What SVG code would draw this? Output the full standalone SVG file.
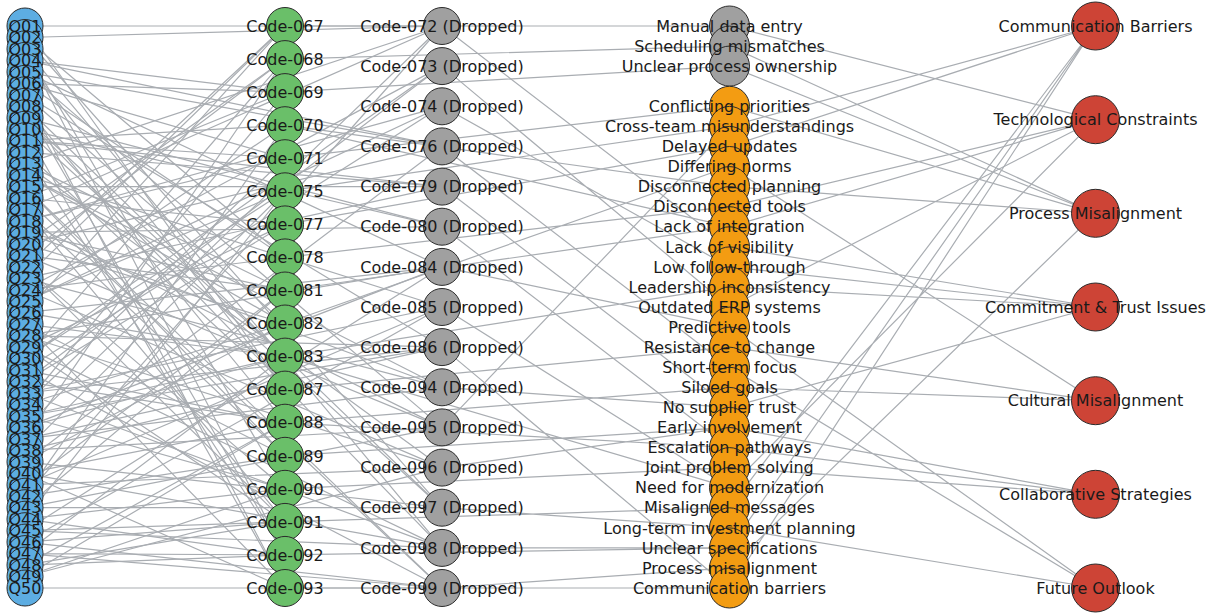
<svg xmlns="http://www.w3.org/2000/svg" width="1217" height="614" viewBox="0 0 1217 614">
<style>
.e path{stroke:#a9adb2;stroke-width:1.2;fill:none}
.n circle{stroke:#2b2b2b;stroke-width:1}
.q circle{fill:#5dade2}
.g circle{fill:#6abf69}
.d circle{fill:#a0a0a0}
.s circle{fill:#a0a0a0}
.o circle{fill:#f39c12}
.t circle{fill:#cd4436}
.lbl text{font-family:"DejaVu Sans","Liberation Sans",sans-serif;font-size:16px;fill:#1a1a1a;text-anchor:middle}
</style>
<rect width="1217" height="614" fill="#ffffff"/>
<g id="connectors" class="e">
<path d="M25 26L285 26M25 26L442 26M25 26L285 389.6"/>
<path d="M25 37.5L285 257.4M25 37.5L442 26M25 37.5L442 507.7"/>
<path d="M25 48.9L285 488.8M25 48.9L442 547.9M25 48.9L285 554.9"/>
<path d="M25 60.4L442 146.4M25 60.4L285 389.6M25 60.4L285 92.1"/>
<path d="M25 71.9L442 427.4M25 71.9L442 266.9M25 71.9L442 146.4"/>
<path d="M25 83.3L285 92.1M25 83.3L285 158.2M25 83.3L285 257.4"/>
<path d="M25 94.8L285 323.5M25 94.8L285 588M25 94.8L442 347.1"/>
<path d="M25 106.3L285 554.9M25 106.3L442 507.7M25 106.3L285 422.7"/>
<path d="M25 117.8L442 226.7M25 117.8L285 356.6M25 117.8L442 547.9"/>
<path d="M25 129.2L442 507.7M25 129.2L442 226.7M25 129.2L285 588"/>
<path d="M25 140.7L285 158.2M25 140.7L285 125.2M25 140.7L442 186.6"/>
<path d="M25 152.2L285 389.6M25 152.2L285 554.9M25 152.2L442 186.6"/>
<path d="M25 163.6L442 26M25 163.6L442 467.6M25 163.6L285 290.5"/>
<path d="M25 175.1L442 307M25 175.1L285 323.5M25 175.1L442 387.3"/>
<path d="M25 186.6L442 588M25 186.6L442 186.6M25 186.6L285 455.8"/>
<path d="M25 198L285 224.4M25 198L285 92.1M25 198L442 588"/>
<path d="M25 209.5L285 455.8M25 209.5L285 521.9M25 209.5L442 26"/>
<path d="M25 221L442 106.3M25 221L442 427.4M25 221L285 158.2"/>
<path d="M25 232.4L442 387.3M25 232.4L285 290.5M25 232.4L442 226.7"/>
<path d="M25 243.9L285 59.1M25 243.9L442 146.4M25 243.9L285 323.5"/>
<path d="M25 255.4L285 290.5M25 255.4L285 59.1M25 255.4L442 427.4"/>
<path d="M25 266.9L285 521.9M25 266.9L285 488.8M25 266.9L285 26"/>
<path d="M25 278.3L442 186.6M25 278.3L442 387.3M25 278.3L285 26"/>
<path d="M25 289.8L442 467.6M25 289.8L285 257.4M25 289.8L442 66.1"/>
<path d="M25 301.3L285 125.2M25 301.3L442 106.3M25 301.3L285 191.3"/>
<path d="M25 312.7L285 356.6M25 312.7L285 26M25 312.7L442 266.9"/>
<path d="M25 324.2L285 588M25 324.2L285 455.8M25 324.2L285 356.6"/>
<path d="M25 335.7L442 266.9M25 335.7L442 347.1M25 335.7L442 467.6"/>
<path d="M25 347.1L442 547.9M25 347.1L285 224.4M25 347.1L285 521.9"/>
<path d="M25 358.6L285 191.3M25 358.6L442 66.1M25 358.6L285 59.1"/>
<path d="M25 370.1L285 422.7M25 370.1L442 588M25 370.1L442 106.3"/>
<path d="M25 381.6L442 66.1M25 381.6L285 422.7M25 381.6L285 224.4"/>
<path d="M25 393L442 347.1M25 393L442 307M25 393L442 547.9"/>
<path d="M25 404.5L285 158.2M25 404.5L285 323.5M25 404.5L285 92.1"/>
<path d="M25 416L285 488.8M25 416L442 347.1M25 416L285 356.6"/>
<path d="M25 427.4L442 266.9M25 427.4L285 356.6M25 427.4L442 26"/>
<path d="M25 438.9L285 59.1M25 438.9L442 387.3M25 438.9L442 347.1"/>
<path d="M25 450.4L285 389.6M25 450.4L442 427.4M25 450.4L285 191.3"/>
<path d="M25 461.8L442 146.4M25 461.8L442 507.7M25 461.8L285 323.5"/>
<path d="M25 473.3L442 547.9M25 473.3L285 422.7M25 473.3L285 588"/>
<path d="M25 484.8L285 290.5M25 484.8L442 467.6M25 484.8L442 307"/>
<path d="M25 496.2L442 26M25 496.2L285 455.8M25 496.2L285 125.2"/>
<path d="M25 507.7L442 427.4M25 507.7L442 507.7M25 507.7L285 290.5"/>
<path d="M25 519.2L285 191.3M25 519.2L285 488.8M25 519.2L285 554.9"/>
<path d="M25 530.7L285 521.9M25 530.7L442 547.9M25 530.7L442 266.9"/>
<path d="M25 542.1L442 307M25 542.1L285 521.9M25 542.1L442 588"/>
<path d="M25 553.6L285 356.6M25 553.6L442 588M25 553.6L285 554.9"/>
<path d="M25 565.1L285 422.7M25 565.1L285 554.9M25 565.1L285 521.9"/>
<path d="M25 576.5L285 488.8M25 576.5L442 467.6M25 576.5L285 422.7"/>
<path d="M25 588L285 588M25 588L442 588"/>
<path d="M285 26L729.5 26M285 59.1L729.5 46.1M285 92.1L729.5 66.1M285 158.2L729.5 106.3M285 191.3L729.5 126.4M442 427.4L729.5 126.4M285 224.4L729.5 146.4M285 323.5L729.5 166.5M285 125.2L729.5 186.6M285 257.4L729.5 206.6M285 290.5L729.5 226.7M285 125.2L729.5 226.7"/>
<path d="M442 26L729.5 246.8M442 106.3L729.5 266.9M285 356.6L729.5 286.9M442 66.1L729.5 307M442 266.9L729.5 327.1M285 389.6L729.5 347.1M442 146.4L729.5 367.2M285 422.7L729.5 387.3M442 186.6L729.5 407.4M442 387.3L729.5 407.4"/>
<path d="M285 455.8L729.5 427.4M442 467.6L729.5 427.4M442 226.7L729.5 447.5M285 422.7L729.5 447.5M285 488.8L729.5 467.6M442 307L729.5 487.6M285 356.6L729.5 487.6M285 521.9L729.5 507.7M442 507.7L729.5 527.8M442 547.9L729.5 547.9M285 554.9L729.5 547.9M442 588L729.5 567.9M285 588L729.5 588M442 347.1L729.5 588"/>
<path d="M729.5 26L1095.5 119.7M729.5 46.1L1095.5 213.3M729.5 66.1L1095.5 213.3M729.5 106.3L1095.5 213.3M729.5 126.4L1095.5 26M729.5 146.4L1095.5 26M729.5 166.5L1095.5 400.7M729.5 186.6L1095.5 213.3M729.5 206.6L1095.5 119.7M729.5 226.7L1095.5 119.7M729.5 246.8L1095.5 307M729.5 266.9L1095.5 307M729.5 286.9L1095.5 307M729.5 307L1095.5 119.7"/>
<path d="M729.5 327.1L1095.5 588M729.5 347.1L1095.5 400.7M729.5 367.2L1095.5 588M729.5 387.3L1095.5 400.7M729.5 407.4L1095.5 307M729.5 427.4L1095.5 494.3M729.5 447.5L1095.5 494.3M729.5 467.6L1095.5 494.3M729.5 487.6L1095.5 119.7M729.5 507.7L1095.5 26M729.5 527.8L1095.5 588M729.5 547.9L1095.5 26M729.5 567.9L1095.5 213.3M729.5 588L1095.5 26"/>
</g>
<g id="nodes" class="n">
<g id="Q01" class="q"><circle cx="25" cy="26" r="18"/></g>
<g id="Q02" class="q"><circle cx="25" cy="37.5" r="18"/></g>
<g id="Q03" class="q"><circle cx="25" cy="48.9" r="18"/></g>
<g id="Q04" class="q"><circle cx="25" cy="60.4" r="18"/></g>
<g id="Q05" class="q"><circle cx="25" cy="71.9" r="18"/></g>
<g id="Q06" class="q"><circle cx="25" cy="83.3" r="18"/></g>
<g id="Q07" class="q"><circle cx="25" cy="94.8" r="18"/></g>
<g id="Q08" class="q"><circle cx="25" cy="106.3" r="18"/></g>
<g id="Q09" class="q"><circle cx="25" cy="117.8" r="18"/></g>
<g id="Q10" class="q"><circle cx="25" cy="129.2" r="18"/></g>
<g id="Q11" class="q"><circle cx="25" cy="140.7" r="18"/></g>
<g id="Q12" class="q"><circle cx="25" cy="152.2" r="18"/></g>
<g id="Q13" class="q"><circle cx="25" cy="163.6" r="18"/></g>
<g id="Q14" class="q"><circle cx="25" cy="175.1" r="18"/></g>
<g id="Q15" class="q"><circle cx="25" cy="186.6" r="18"/></g>
<g id="Q16" class="q"><circle cx="25" cy="198" r="18"/></g>
<g id="Q17" class="q"><circle cx="25" cy="209.5" r="18"/></g>
<g id="Q18" class="q"><circle cx="25" cy="221" r="18"/></g>
<g id="Q19" class="q"><circle cx="25" cy="232.4" r="18"/></g>
<g id="Q20" class="q"><circle cx="25" cy="243.9" r="18"/></g>
<g id="Q21" class="q"><circle cx="25" cy="255.4" r="18"/></g>
<g id="Q22" class="q"><circle cx="25" cy="266.9" r="18"/></g>
<g id="Q23" class="q"><circle cx="25" cy="278.3" r="18"/></g>
<g id="Q24" class="q"><circle cx="25" cy="289.8" r="18"/></g>
<g id="Q25" class="q"><circle cx="25" cy="301.3" r="18"/></g>
<g id="Q26" class="q"><circle cx="25" cy="312.7" r="18"/></g>
<g id="Q27" class="q"><circle cx="25" cy="324.2" r="18"/></g>
<g id="Q28" class="q"><circle cx="25" cy="335.7" r="18"/></g>
<g id="Q29" class="q"><circle cx="25" cy="347.1" r="18"/></g>
<g id="Q30" class="q"><circle cx="25" cy="358.6" r="18"/></g>
<g id="Q31" class="q"><circle cx="25" cy="370.1" r="18"/></g>
<g id="Q32" class="q"><circle cx="25" cy="381.6" r="18"/></g>
<g id="Q33" class="q"><circle cx="25" cy="393" r="18"/></g>
<g id="Q34" class="q"><circle cx="25" cy="404.5" r="18"/></g>
<g id="Q35" class="q"><circle cx="25" cy="416" r="18"/></g>
<g id="Q36" class="q"><circle cx="25" cy="427.4" r="18"/></g>
<g id="Q37" class="q"><circle cx="25" cy="438.9" r="18"/></g>
<g id="Q38" class="q"><circle cx="25" cy="450.4" r="18"/></g>
<g id="Q39" class="q"><circle cx="25" cy="461.8" r="18"/></g>
<g id="Q40" class="q"><circle cx="25" cy="473.3" r="18"/></g>
<g id="Q41" class="q"><circle cx="25" cy="484.8" r="18"/></g>
<g id="Q42" class="q"><circle cx="25" cy="496.2" r="18"/></g>
<g id="Q43" class="q"><circle cx="25" cy="507.7" r="18"/></g>
<g id="Q44" class="q"><circle cx="25" cy="519.2" r="18"/></g>
<g id="Q45" class="q"><circle cx="25" cy="530.7" r="18"/></g>
<g id="Q46" class="q"><circle cx="25" cy="542.1" r="18"/></g>
<g id="Q47" class="q"><circle cx="25" cy="553.6" r="18"/></g>
<g id="Q48" class="q"><circle cx="25" cy="565.1" r="18"/></g>
<g id="Q49" class="q"><circle cx="25" cy="576.5" r="18"/></g>
<g id="Q50" class="q"><circle cx="25" cy="588" r="18"/></g>
<g id="Code-067" class="g"><circle cx="285" cy="26" r="18.5"/></g>
<g id="Code-068" class="g"><circle cx="285" cy="59.1" r="18.5"/></g>
<g id="Code-069" class="g"><circle cx="285" cy="92.1" r="18.5"/></g>
<g id="Code-070" class="g"><circle cx="285" cy="125.2" r="18.5"/></g>
<g id="Code-071" class="g"><circle cx="285" cy="158.2" r="18.5"/></g>
<g id="Code-075" class="g"><circle cx="285" cy="191.3" r="18.5"/></g>
<g id="Code-077" class="g"><circle cx="285" cy="224.4" r="18.5"/></g>
<g id="Code-078" class="g"><circle cx="285" cy="257.4" r="18.5"/></g>
<g id="Code-081" class="g"><circle cx="285" cy="290.5" r="18.5"/></g>
<g id="Code-082" class="g"><circle cx="285" cy="323.5" r="18.5"/></g>
<g id="Code-083" class="g"><circle cx="285" cy="356.6" r="18.5"/></g>
<g id="Code-087" class="g"><circle cx="285" cy="389.6" r="18.5"/></g>
<g id="Code-088" class="g"><circle cx="285" cy="422.7" r="18.5"/></g>
<g id="Code-089" class="g"><circle cx="285" cy="455.8" r="18.5"/></g>
<g id="Code-090" class="g"><circle cx="285" cy="488.8" r="18.5"/></g>
<g id="Code-091" class="g"><circle cx="285" cy="521.9" r="18.5"/></g>
<g id="Code-092" class="g"><circle cx="285" cy="554.9" r="18.5"/></g>
<g id="Code-093" class="g"><circle cx="285" cy="588" r="18.5"/></g>
<g id="Code-072" class="d"><circle cx="442" cy="26" r="18.5"/></g>
<g id="Code-073" class="d"><circle cx="442" cy="66.1" r="18.5"/></g>
<g id="Code-074" class="d"><circle cx="442" cy="106.3" r="18.5"/></g>
<g id="Code-076" class="d"><circle cx="442" cy="146.4" r="18.5"/></g>
<g id="Code-079" class="d"><circle cx="442" cy="186.6" r="18.5"/></g>
<g id="Code-080" class="d"><circle cx="442" cy="226.7" r="18.5"/></g>
<g id="Code-084" class="d"><circle cx="442" cy="266.9" r="18.5"/></g>
<g id="Code-085" class="d"><circle cx="442" cy="307" r="18.5"/></g>
<g id="Code-086" class="d"><circle cx="442" cy="347.1" r="18.5"/></g>
<g id="Code-094" class="d"><circle cx="442" cy="387.3" r="18.5"/></g>
<g id="Code-095" class="d"><circle cx="442" cy="427.4" r="18.5"/></g>
<g id="Code-096" class="d"><circle cx="442" cy="467.6" r="18.5"/></g>
<g id="Code-097" class="d"><circle cx="442" cy="507.7" r="18.5"/></g>
<g id="Code-098" class="d"><circle cx="442" cy="547.9" r="18.5"/></g>
<g id="Code-099" class="d"><circle cx="442" cy="588" r="18.5"/></g>
<g id="sub-manual-data-entry" class="s"><circle cx="729.5" cy="26" r="20"/></g>
<g id="sub-scheduling-mismatches" class="s"><circle cx="729.5" cy="46.1" r="20"/></g>
<g id="sub-unclear-process-ownership" class="s"><circle cx="729.5" cy="66.1" r="20"/></g>
<g id="sub-conflicting-priorities" class="o"><circle cx="729.5" cy="106.3" r="20"/></g>
<g id="sub-cross-team-misunderstandings" class="o"><circle cx="729.5" cy="126.4" r="20"/></g>
<g id="sub-delayed-updates" class="o"><circle cx="729.5" cy="146.4" r="20"/></g>
<g id="sub-differing-norms" class="o"><circle cx="729.5" cy="166.5" r="20"/></g>
<g id="sub-disconnected-planning" class="o"><circle cx="729.5" cy="186.6" r="20"/></g>
<g id="sub-disconnected-tools" class="o"><circle cx="729.5" cy="206.6" r="20"/></g>
<g id="sub-lack-of-integration" class="o"><circle cx="729.5" cy="226.7" r="20"/></g>
<g id="sub-lack-of-visibility" class="o"><circle cx="729.5" cy="246.8" r="20"/></g>
<g id="sub-low-follow-through" class="o"><circle cx="729.5" cy="266.9" r="20"/></g>
<g id="sub-leadership-inconsistency" class="o"><circle cx="729.5" cy="286.9" r="20"/></g>
<g id="sub-outdated-erp-systems" class="o"><circle cx="729.5" cy="307" r="20"/></g>
<g id="sub-predictive-tools" class="o"><circle cx="729.5" cy="327.1" r="20"/></g>
<g id="sub-resistance-to-change" class="o"><circle cx="729.5" cy="347.1" r="20"/></g>
<g id="sub-short-term-focus" class="o"><circle cx="729.5" cy="367.2" r="20"/></g>
<g id="sub-siloed-goals" class="o"><circle cx="729.5" cy="387.3" r="20"/></g>
<g id="sub-no-supplier-trust" class="o"><circle cx="729.5" cy="407.4" r="20"/></g>
<g id="sub-early-involvement" class="o"><circle cx="729.5" cy="427.4" r="20"/></g>
<g id="sub-escalation-pathways" class="o"><circle cx="729.5" cy="447.5" r="20"/></g>
<g id="sub-joint-problem-solving" class="o"><circle cx="729.5" cy="467.6" r="20"/></g>
<g id="sub-need-for-modernization" class="o"><circle cx="729.5" cy="487.6" r="20"/></g>
<g id="sub-misaligned-messages" class="o"><circle cx="729.5" cy="507.7" r="20"/></g>
<g id="sub-long-term-investment-planning" class="o"><circle cx="729.5" cy="527.8" r="20"/></g>
<g id="sub-unclear-specifications" class="o"><circle cx="729.5" cy="547.9" r="20"/></g>
<g id="sub-process-misalignment" class="o"><circle cx="729.5" cy="567.9" r="20"/></g>
<g id="sub-communication-barriers" class="o"><circle cx="729.5" cy="588" r="20"/></g>
<g id="theme-communication-barriers" class="t"><circle cx="1095.5" cy="26" r="24"/></g>
<g id="theme-technological-constraints" class="t"><circle cx="1095.5" cy="119.7" r="24"/></g>
<g id="theme-process-misalignment" class="t"><circle cx="1095.5" cy="213.3" r="24"/></g>
<g id="theme-commitment-trust" class="t"><circle cx="1095.5" cy="307" r="24"/></g>
<g id="theme-cultural-misalignment" class="t"><circle cx="1095.5" cy="400.7" r="24"/></g>
<g id="theme-collaborative-strategies" class="t"><circle cx="1095.5" cy="494.3" r="24"/></g>
<g id="theme-future-outlook" class="t"><circle cx="1095.5" cy="588" r="24"/></g>
</g>
<g id="labels" class="lbl">
<text x="25" y="31.7">Q01</text><text x="25" y="43.2">Q02</text><text x="25" y="54.6">Q03</text><text x="25" y="66.1">Q04</text><text x="25" y="77.6">Q05</text>
<text x="25" y="89">Q06</text><text x="25" y="100.5">Q07</text><text x="25" y="112">Q08</text><text x="25" y="123.5">Q09</text><text x="25" y="134.9">Q10</text>
<text x="25" y="146.4">Q11</text><text x="25" y="157.9">Q12</text><text x="25" y="169.3">Q13</text><text x="25" y="180.8">Q14</text><text x="25" y="192.3">Q15</text>
<text x="25" y="203.7">Q16</text><text x="25" y="215.2">Q17</text><text x="25" y="226.7">Q18</text><text x="25" y="238.1">Q19</text><text x="25" y="249.6">Q20</text>
<text x="25" y="261.1">Q21</text><text x="25" y="272.6">Q22</text><text x="25" y="284">Q23</text><text x="25" y="295.5">Q24</text><text x="25" y="307">Q25</text>
<text x="25" y="318.4">Q26</text><text x="25" y="329.9">Q27</text><text x="25" y="341.4">Q28</text><text x="25" y="352.8">Q29</text><text x="25" y="364.3">Q30</text>
<text x="25" y="375.8">Q31</text><text x="25" y="387.3">Q32</text><text x="25" y="398.7">Q33</text><text x="25" y="410.2">Q34</text><text x="25" y="421.7">Q35</text>
<text x="25" y="433.1">Q36</text><text x="25" y="444.6">Q37</text><text x="25" y="456.1">Q38</text><text x="25" y="467.5">Q39</text><text x="25" y="479">Q40</text>
<text x="25" y="490.5">Q41</text><text x="25" y="501.9">Q42</text><text x="25" y="513.4">Q43</text><text x="25" y="524.9">Q44</text><text x="25" y="536.4">Q45</text>
<text x="25" y="547.8">Q46</text><text x="25" y="559.3">Q47</text><text x="25" y="570.8">Q48</text><text x="25" y="582.2">Q49</text><text x="25" y="593.7">Q50</text>
<text x="285" y="31.7">Code-067</text><text x="285" y="64.8">Code-068</text><text x="285" y="97.8">Code-069</text><text x="285" y="130.9">Code-070</text>
<text x="285" y="163.9">Code-071</text><text x="285" y="197">Code-075</text><text x="285" y="230.1">Code-077</text><text x="285" y="263.1">Code-078</text>
<text x="285" y="296.2">Code-081</text><text x="285" y="329.2">Code-082</text><text x="285" y="362.3">Code-083</text><text x="285" y="395.3">Code-087</text>
<text x="285" y="428.4">Code-088</text><text x="285" y="461.5">Code-089</text><text x="285" y="494.5">Code-090</text><text x="285" y="527.6">Code-091</text>
<text x="285" y="560.6">Code-092</text><text x="285" y="593.7">Code-093</text>
<text x="442" y="31.7">Code-072 (Dropped)</text><text x="442" y="71.8">Code-073 (Dropped)</text><text x="442" y="112">Code-074 (Dropped)</text>
<text x="442" y="152.1">Code-076 (Dropped)</text><text x="442" y="192.3">Code-079 (Dropped)</text><text x="442" y="232.4">Code-080 (Dropped)</text>
<text x="442" y="272.6">Code-084 (Dropped)</text><text x="442" y="312.7">Code-085 (Dropped)</text><text x="442" y="352.8">Code-086 (Dropped)</text>
<text x="442" y="393">Code-094 (Dropped)</text><text x="442" y="433.1">Code-095 (Dropped)</text><text x="442" y="473.3">Code-096 (Dropped)</text>
<text x="442" y="513.4">Code-097 (Dropped)</text><text x="442" y="553.6">Code-098 (Dropped)</text><text x="442" y="593.7">Code-099 (Dropped)</text>
<text x="729.5" y="31.7">Manual data entry</text>
<text x="729.5" y="51.8">Scheduling mismatches</text>
<text x="729.5" y="71.8">Unclear process ownership</text>
<text x="729.5" y="112">Conflicting priorities</text>
<text x="729.5" y="132.1">Cross-team misunderstandings</text>
<text x="729.5" y="152.1">Delayed updates</text>
<text x="729.5" y="172.2">Differing norms</text>
<text x="729.5" y="192.3">Disconnected planning</text>
<text x="729.5" y="212.3">Disconnected tools</text>
<text x="729.5" y="232.4">Lack of integration</text>
<text x="729.5" y="252.5">Lack of visibility</text>
<text x="729.5" y="272.6">Low follow-through</text>
<text x="729.5" y="292.6">Leadership inconsistency</text>
<text x="729.5" y="312.7">Outdated ERP systems</text>
<text x="729.5" y="332.8">Predictive tools</text>
<text x="729.5" y="352.8">Resistance to change</text>
<text x="729.5" y="372.9">Short-term focus</text>
<text x="729.5" y="393">Siloed goals</text>
<text x="729.5" y="413.1">No supplier trust</text>
<text x="729.5" y="433.1">Early involvement</text>
<text x="729.5" y="453.2">Escalation pathways</text>
<text x="729.5" y="473.3">Joint problem solving</text>
<text x="729.5" y="493.3">Need for modernization</text>
<text x="729.5" y="513.4">Misaligned messages</text>
<text x="729.5" y="533.5">Long-term investment planning</text>
<text x="729.5" y="553.6">Unclear specifications</text>
<text x="729.5" y="573.6">Process misalignment</text>
<text x="729.5" y="593.7">Communication barriers</text>
<text x="1095.5" y="31.7">Communication Barriers</text>
<text x="1095.5" y="125.4">Technological Constraints</text>
<text x="1095.5" y="219">Process Misalignment</text>
<text x="1095.5" y="312.7">Commitment &amp; Trust Issues</text>
<text x="1095.5" y="406.4">Cultural Misalignment</text>
<text x="1095.5" y="500">Collaborative Strategies</text>
<text x="1095.5" y="593.7">Future Outlook</text>
</g>
</svg>
